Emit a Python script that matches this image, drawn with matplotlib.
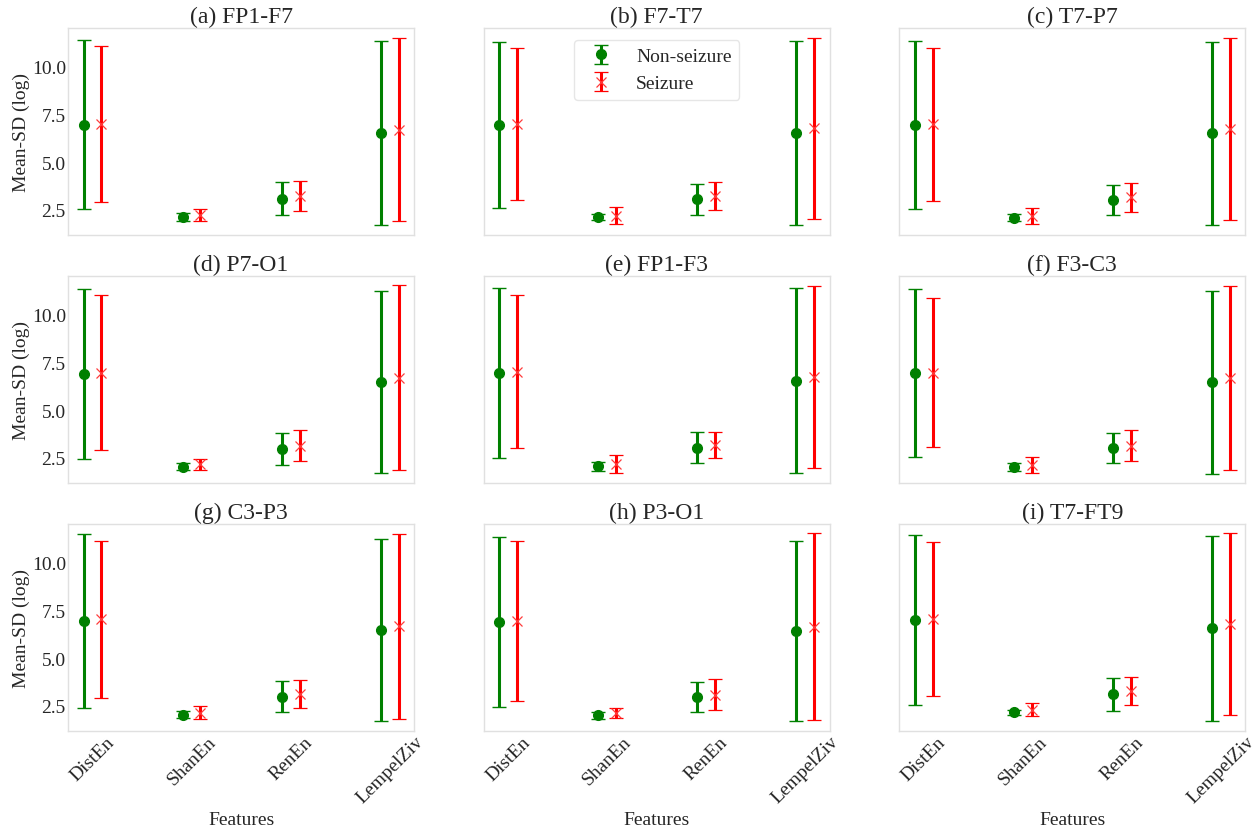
import matplotlib
matplotlib.use("Agg")
import matplotlib.pyplot as plt
import numpy as np

plt.rcParams['font.family'] = ['Liberation Serif', 'DejaVu Serif']
plt.rcParams['text.color'] = '0.15'
plt.rcParams['axes.labelcolor'] = '0.15'
plt.rcParams['xtick.labelcolor'] = '0.15'
plt.rcParams['ytick.labelcolor'] = '0.15'

features = ["DistEn", "ShanEn", "RenEn", "LempelZiv"]
titles = ["(a) FP1-F7", "(b) F7-T7", "(c) T7-P7",
          "(d) P7-O1", "(e) FP1-F3", "(f) F3-C3",
          "(g) C3-P3", "(h) P3-O1", "(i) T7-FT9"]

nonseizure_mean = [
    [6.96, 2.13, 3.09, 6.54],
    [6.95, 2.12, 3.06, 6.55],
    [6.95, 2.10, 3.04, 6.52],
    [6.90, 2.05, 2.99, 6.47],
    [6.94, 2.07, 3.04, 6.54],
    [6.94, 2.03, 3.01, 6.47],
    [6.95, 2.03, 2.99, 6.47],
    [6.90, 2.00, 2.96, 6.45],
    [7.01, 2.17, 3.11, 6.57],
]
nonseizure_sd = [
    [4.43, 0.20, 0.87, 4.82],
    [4.37, 0.17, 0.81, 4.83],
    [4.41, 0.20, 0.78, 4.81],
    [4.46, 0.18, 0.84, 4.77],
    [4.45, 0.24, 0.82, 4.85],
    [4.41, 0.20, 0.79, 4.79],
    [4.57, 0.18, 0.81, 4.77],
    [4.48, 0.18, 0.80, 4.72],
    [4.47, 0.14, 0.87, 4.86],
]
seizure_mean = [
    [7.01, 2.23, 3.24, 6.72],
    [7.01, 2.21, 3.22, 6.78],
    [6.99, 2.19, 3.17, 6.74],
    [6.97, 2.17, 3.15, 6.71],
    [7.02, 2.18, 3.17, 6.74],
    [6.98, 2.14, 3.15, 6.71],
    [7.04, 2.14, 3.13, 6.68],
    [6.97, 2.12, 3.10, 6.66],
    [7.06, 2.31, 3.27, 6.80],
]
seizure_sd = [
    [4.07, 0.31, 0.78, 4.80],
    [4.00, 0.43, 0.73, 4.76],
    [4.00, 0.42, 0.75, 4.78],
    [4.07, 0.28, 0.80, 4.84],
    [4.01, 0.45, 0.68, 4.79],
    [3.92, 0.42, 0.80, 4.82],
    [4.13, 0.34, 0.74, 4.84],
    [4.20, 0.25, 0.80, 4.89],
    [4.06, 0.33, 0.73, 4.75],
]

fig, axes = plt.subplots(3, 3, figsize=(12.58, 8.29), dpi=100, sharex=True, sharey=True)
fig.subplots_adjust(left=0.054, right=0.990, top=0.965, bottom=0.117, wspace=0.2, hspace=0.198)

x = np.arange(len(features))
off = 0.09
for k, ax in enumerate(axes.flat):
    ax.errorbar(x - off, nonseizure_mean[k], yerr=nonseizure_sd[k], fmt='o', color='green',
                ecolor='green', elinewidth=2.2, capsize=5, capthick=1, markersize=7,
                label='Non-seizure')
    ax.errorbar(x + off, seizure_mean[k], yerr=seizure_sd[k], fmt='x', color='#ff3b3b',
                ecolor='red', elinewidth=2.2, capsize=5, capthick=1, markersize=7,
                markeredgewidth=0.9, label='Seizure')
    ax.set_title(titles[k], fontsize=17, pad=4)
    for s in ax.spines.values():
        s.set_color('#e0e0e0')
        s.set_linewidth(1)
    ax.tick_params(length=0, labelsize=14, pad=1.5)
    ax.set_facecolor('white')
    if k % 3 == 0:
        ax.set_ylabel('Mean-SD (log)', fontsize=14, labelpad=1)
    if k >= 6:
        ax.set_xlabel('Features', fontsize=14, labelpad=3)
    if k == 1:
        leg = ax.legend(loc='upper center', fontsize=14, frameon=True, fancybox=True,
                        borderaxespad=0.6)
        leg.get_frame().set_edgecolor('#e0e0e0')

axes[0, 0].set_xticks(x)
axes[0, 0].set_yticks([2.5, 5.0, 7.5, 10.0])
for ax in axes[2]:
    ax.set_xticklabels(features, rotation=45)

fig.savefig('out.png', dpi=100)
